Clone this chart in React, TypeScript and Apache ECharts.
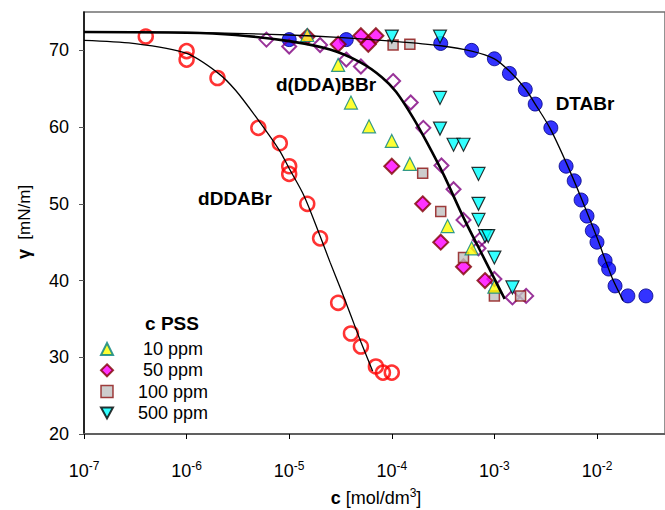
import React, { useEffect, useRef } from "react";
import * as echarts from "echarts";

// concentration [mol/dm3], surface tension [mN/m]
const dDDABrC = [4.0e-7, 1.0e-6, 1.0e-6, 2.0e-6, 5.0e-6, 8.1e-6, 1.0e-5, 1.0e-5, 1.5e-5, 2.0e-5, 3.0e-5, 4.0e-5, 5.0e-5, 7.0e-5, 8.2e-5, 1.0e-4];
const dDDABrG = [71.8, 69.9, 68.8, 66.4, 59.9, 57.9, 54.9, 53.9, 50.0, 45.5, 37.1, 33.1, 31.4, 28.8, 28.0, 28.0];

const dDDABBrC = [6.0e-6, 1.0e-5, 2.0e-5, 3.6e-5, 5.0e-5, 1.03e-4, 1.53e-4, 2.03e-4, 3.05e-4, 4.0e-4, 5.0e-4, 7.2e-4, 7.0e-4, 1.0e-3, 1.5e-3, 2.04e-3];
const dDDABBrG = [71.4, 70.5, 70.7, 68.8, 67.9, 66.0, 63.2, 59.9, 55.0, 51.9, 47.9, 45.3, 44.2, 40.2, 37.8, 38.0];

const dtabrC = [1.0e-5, 3.6e-5, 3.0e-4, 6.0e-4, 1.0e-3, 1.4e-3, 2.0e-3, 2.5e-3, 3.55e-3, 5.0e-3, 6.0e-3, 7.0e-3, 8.0e-3, 9.0e-3, 1.0e-2, 1.2e-2, 1.3e-2, 1.5e-2, 2.0e-2, 3.0e-2];
const dtabrG = [71.4, 71.4, 70.9, 70.0, 68.9, 67.0, 64.9, 63.0, 59.9, 54.9, 53.0, 50.5, 48.4, 46.5, 45.0, 42.6, 41.5, 39.3, 38.0, 38.0];

const pss10C = [1.5e-5, 3.0e-5, 4.0e-5, 6.0e-5, 1.0e-4, 1.5e-4, 3.5e-4, 6.0e-4, 1.0e-3];
const pss10G = [72.0, 68.1, 63.2, 60.1, 58.2, 55.2, 47.1, 44.2, 39.2];

const pss50C = [1.5e-5, 3.0e-5, 5.0e-5, 5.9e-5, 7.0e-5, 1.0e-4, 2.0e-4, 3.0e-4, 5.0e-4, 8.1e-4];
const pss50G = [71.8, 70.8, 71.9, 70.8, 71.9, 54.9, 50.0, 45.0, 41.8, 40.0];

const pss100C = [1.03e-4, 1.5e-4, 2.0e-4, 3.0e-4, 5.0e-4, 1.0e-3, 1.8e-3];
const pss100G = [70.7, 70.8, 54.0, 49.0, 43.0, 38.0, 38.0];

const pss500C = [1.0e-4, 2.95e-4, 2.95e-4, 2.95e-4, 4.0e-4, 5.0e-4, 7.0e-4, 7.0e-4, 7.0e-4, 8.1e-4, 8.7e-4, 1.0e-3, 1.5e-3];
const pss500G = [71.8, 71.8, 63.8, 59.8, 57.7, 57.7, 53.9, 50.0, 47.9, 45.8, 45.8, 43.0, 39.1];

// fitted curves
const fitDDDABrC = [1e-7, 3e-7, 1e-6, 2e-6, 3e-6, 5e-6, 8e-6, 1e-5, 1.4e-5, 2e-5, 2.5e-5, 3.2e-5, 4e-5, 5e-5, 6.5e-5];
const fitDDDABrG = [71.3, 70.9, 69.6, 67.1, 64.8, 60.9, 57.0, 54.6, 51.0, 45.8, 42.4, 38.8, 35.4, 32.0, 28.2];

const fitDDABBrC = [1e-7, 1e-6, 3e-6, 1e-5, 2.5e-5, 5e-5, 8e-5, 1.1e-4, 1.6e-4, 2.2e-4, 3.2e-4, 5e-4, 8e-4, 1.26e-3];
const fitDDABBrG = [72.4, 72.3, 72.0, 71.2, 70.1, 68.4, 66.5, 64.6, 61.3, 58.0, 53.8, 48.2, 42.8, 37.6];

const fitDTABrC = [1e-7, 1e-6, 1e-5, 3e-5, 1e-4, 3e-4, 6e-4, 1e-3, 1.4e-3, 2e-3, 2.5e-3, 3.5e-3, 5e-3, 7e-3, 1e-2, 1.4e-2, 1.8e-2];
const fitDTABrG = [72.4, 72.35, 72.0, 71.7, 71.2, 70.6, 69.9, 68.9, 67.3, 65.0, 63.0, 59.8, 55.4, 50.8, 45.6, 40.4, 37.4];

const xTicks = [-7, -6, -5, -4, -3, -2];
const yTicks = [20, 30, 40, 50, 60, 70];
const legendNames = ["10 ppm", "50 ppm", "100 ppm", "500 ppm"];

const FONT = "'Liberation Sans', Arial, sans-serif";

const pts = (c: number[], g: number[]) => c.map((v, i) => [Math.log10(v), g[i]]);

export default function App() {
  const ref = useRef<HTMLDivElement>(null);
  useEffect(() => {
    if (!ref.current) return;
    const chart = echarts.init(ref.current, null, { renderer: "svg" });
    const lineBase = { type: "line", showSymbol: false, symbol: "none", smooth: 0.3, silent: true, color: "#000" };
    chart.setOption({
      animation: false,
      textStyle: { fontFamily: FONT, color: "#000" },
      grid: { left: 84, top: 12, bottom: 76, right: 0, show: true, borderColor: "#707070", borderWidth: 1.5 },
      xAxis: {
        type: "value",
        min: -7,
        max: -1.337,
        interval: 1,
        splitLine: { show: false },
        axisLine: { show: true, lineStyle: { color: "#606060", width: 2 } },
        axisTick: { show: true, inside: false, length: 5, customValues: xTicks, lineStyle: { color: "#000", width: 1 } },
        axisLabel: {
          margin: 26,
          customValues: xTicks,
          formatter: (v: number) => `{b|10}{s|${v}}`,
          rich: {
            b: { fontSize: 18, fontFamily: FONT, color: "#000", lineHeight: 22 },
            s: { fontSize: 12, fontFamily: FONT, color: "#000", verticalAlign: "top", lineHeight: 14 },
          },
        },
      },
      yAxis: {
        type: "value",
        min: 20,
        max: 75,
        interval: 10,
        splitLine: { show: false },
        axisLine: { show: true, lineStyle: { color: "#000", width: 1.5 } },
        axisTick: { show: true, inside: false, length: 5, customValues: yTicks, lineStyle: { color: "#555", width: 1 } },
        axisLabel: { margin: 15, fontSize: 18, fontFamily: FONT, color: "#000", customValues: yTicks },
      },
      legend: {
        orient: "vertical",
        left: 95,
        top: 335,
        itemWidth: 12,
        itemHeight: 12,
        itemGap: 3.3,
        data: [
          { name: legendNames[0] },
          { name: legendNames[1] },
          { name: legendNames[2], itemStyle: { borderWidth: 1.5 } },
          { name: legendNames[3], icon: "path://M0,0L12,0L6,11Z" },
        ],
        selectedMode: false,
        formatter: (n: string) => `{t|${n}}`,
        textStyle: {
          rich: { t: { fontSize: 18, fontFamily: FONT, color: "#000", width: 110, align: "center", lineHeight: 16 } },
        },
      },
      graphic: [
        { type: "text", x: 326, y: 84, style: { text: "d(DDA)BBr", font: `bold 19px ${FONT}`, fill: "#000", align: "center", verticalAlign: "middle" } },
        { type: "text", x: 585, y: 103, style: { text: "DTABr", font: `bold 19px ${FONT}`, fill: "#000", align: "center", verticalAlign: "middle" } },
        { type: "text", x: 235, y: 198, style: { text: "dDDABr", font: `bold 19px ${FONT}`, fill: "#000", align: "center", verticalAlign: "middle" } },
        { type: "text", x: 172, y: 323, style: { text: "c PSS", font: `bold 19px ${FONT}`, fill: "#000", align: "center", verticalAlign: "middle" } },
        {
          type: "text", x: 376, y: 498,
          style: {
            text: "{b|c} [mol/dm{s|3}]",
            align: "center", verticalAlign: "middle", fill: "#000",
            rich: {
              b: { fontSize: 18, fontWeight: "bold", fontFamily: FONT, lineHeight: 22 },
              s: { fontSize: 12, fontFamily: FONT, verticalAlign: "top", lineHeight: 14 },
            },
            font: `18px ${FONT}`,
          },
        },
        {
          type: "text", x: 24, y: 222, rotation: Math.PI / 2,
          style: {
            text: "{g|γ}  [mN/m]",
            align: "center", verticalAlign: "middle", fill: "#000",
            font: `17px ${FONT}`,
            rich: { g: { fontSize: 18, fontWeight: "bold", fontFamily: FONT } },
          },
        },
      ],
      series: [
        {
          name: "DTABr", type: "scatter", data: pts(dtabrC, dtabrG), symbol: "circle", symbolSize: 14,
          itemStyle: { color: "#0000ff", borderColor: "#000080", borderWidth: 1 },
        },
        { ...lineBase, name: "fit dDDABr", data: pts(fitDDDABrC, fitDDDABrG), lineStyle: { color: "#000", width: 1.3 } },
        { ...lineBase, name: "fit d(DDA)BBr", data: pts(fitDDABBrC, fitDDABBrG), lineStyle: { color: "#000", width: 2.6 } },
        { ...lineBase, name: "fit DTABr", data: pts(fitDTABrC, fitDTABrG), lineStyle: { color: "#000", width: 1.3 } },
        {
          name: "dDDABr", type: "scatter", data: pts(dDDABrC, dDDABrG), symbol: "circle", symbolSize: 14,
          itemStyle: { color: "rgba(255,255,255,0)", borderColor: "#ff0000", borderWidth: 2.5 },
        },
        {
          name: "d(DDA)BBr", type: "scatter", data: pts(dDDABBrC, dDDABBrG), symbol: "diamond", symbolSize: 14,
          itemStyle: { color: "rgba(255,255,255,0)", borderColor: "#800080", borderWidth: 2 },
        },
        {
          name: "50 ppm", type: "scatter", data: pts(pss50C, pss50G), symbol: "diamond", symbolSize: 15,
          itemStyle: { color: "#ff00ff", borderColor: "#800000", borderWidth: 2 },
        },
        {
          name: "100 ppm", type: "scatter", data: pts(pss100C, pss100G), symbol: "rect", symbolSize: 10,
          itemStyle: { color: "#c0c0c0", borderColor: "#8b1010", borderWidth: 1.5 },
        },
        {
          name: "10 ppm", type: "scatter", data: pts(pss10C, pss10G), symbol: "triangle", symbolSize: 13,
          itemStyle: { color: "#ffff00", borderColor: "#008080", borderWidth: 1.2 },
        },
        {
          name: "500 ppm", type: "scatter", data: pts(pss500C, pss500G), symbol: "triangle", symbolRotate: 180, symbolSize: 13,
          itemStyle: { color: "#00ffff", borderColor: "#000000", borderWidth: 1.2 },
        },
      ],
    });
    return () => chart.dispose();
  }, []);
  return <div ref={ref} style={{ width: 665, height: 510, position: "absolute", left: 0, top: 0 }} />;
}
